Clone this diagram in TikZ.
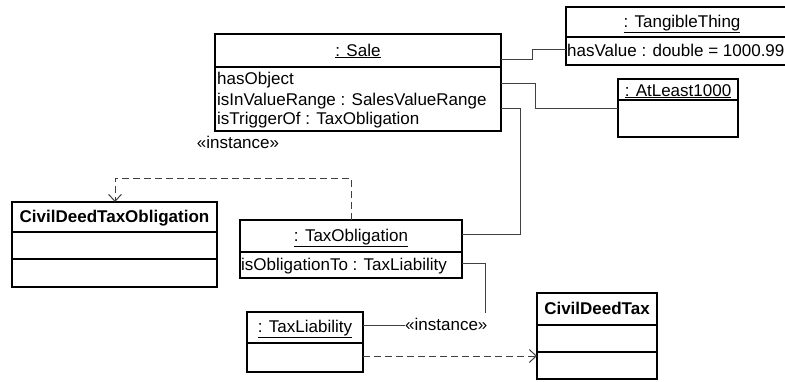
\documentclass[tikz,border=0pt]{standalone}
\usepackage{fontspec}
\setmainfont{Liberation Sans}
\usetikzlibrary{arrows.meta}
\begin{document}
\begin{tikzpicture}[x=1pt,y=-1pt,
  box/.style={draw=black,line width=1.3pt,anchor=north west,inner sep=0pt,outer sep=0pt},
  sep/.style={draw=black,line width=1.3pt},
  txt/.style={inner sep=0pt,font=\fontsize{17}{19}\selectfont},
  conn/.style={draw=black!75,line width=1pt},
  dep/.style={draw=black!75,line width=1pt,dash pattern=on 7pt off 4pt,-{Straight Barb[length=7pt,width=13pt,line width=1pt]}}]
\useasboundingbox (0,0) rectangle (785,381);
\clip (0,0) rectangle (785,381);
% Sale
\node[box,minimum width=286pt,minimum height=97pt] (sale) at (215,34) {};
\draw[sep] (215,67) -- (501,67);
\node[txt,anchor=base] (saleh) at (358,56) {\underline{: Sale}};
\node[txt,anchor=base west] (sa1) at (217,84) {hasObject};
\node[txt,anchor=base west] (sa2) at (217,105) {isInValueRange : SalesValueRange};
\node[txt,anchor=base west] (sa3) at (217,124) {isTriggerOf : TaxObligation};
% TangibleThing
\node[box,minimum width=234pt,minimum height=58pt] (tang) at (566,7) {};
\draw[sep] (566,37) -- (800,37);
\node[txt,anchor=base] (tangh) at (682,27) {\underline{: TangibleThing}};
\node[txt,anchor=base west] (tanga) at (567,56) {hasValue : double = 1000.99};
% AtLeast1000
\node[box,minimum width=120pt,minimum height=58pt] (atl) at (618,79) {};
\draw[sep] (618,100) -- (738,100);
\node[txt,anchor=base] (atlh) at (678,96) {\underline{: AtLeast1000}};
% CivilDeedTaxObligation
\node[box,minimum width=205pt,minimum height=85pt] (cdto) at (12,202) {};
\draw[sep] (12,232) -- (217,232);
\draw[sep] (12,259) -- (217,259);
\node[txt,anchor=base,font=\fontsize{17}{19}\selectfont\bfseries] (cdtoh) at (114.5,222) {CivilDeedTaxObligation};
% TaxObligation
\node[box,minimum width=222pt,minimum height=58pt] (tob) at (240,220) {};
\draw[sep] (240,252) -- (462,252);
\node[txt,anchor=base] (tobh) at (351,241) {\underline{: TaxObligation}};
\node[txt,anchor=base west] (toba) at (241,270) {isObligationTo : TaxLiability};
% TaxLiability
\node[box,minimum width=116pt,minimum height=60pt] (tli) at (247,312) {};
\draw[sep] (247,343) -- (363,343);
\node[txt,anchor=base] (tlih) at (305,332) {\underline{: TaxLiability}};
% CivilDeedTax
\node[box,minimum width=120pt,minimum height=86pt] (cdt) at (537,293) {};
\draw[sep] (537,325) -- (657,325);
\draw[sep] (537,352) -- (657,352);
\node[txt,anchor=base,font=\fontsize{17}{19}\selectfont\bfseries] (cdth) at (597,314) {CivilDeedTax};
% labels
\node[txt,anchor=base] (inst1) at (238,148) {«instance»};
\node[txt,anchor=base west] (inst2) at (405,330) {«instance»};
% connectors
\coordinate (s1) at (sale.east |- 0,59);
\coordinate (s2) at (sale.east |- 0,83);
\coordinate (s3) at (sale.east |- 0,108);
\draw[conn] (s1) -- (532,59) -- (532,49) -- (tang.west |- 0,49);
\draw[conn] (s2) -- (535,83) -- (535,108) -- (atl.west |- 0,108);
\draw[conn] (s3) -- (520,108) -- (520,234) -- (tob.east |- 0,234);
\draw[conn] (tob.east |- 0,263) -- (485,263) -- (485,313);
\draw[conn] (tli.east |- 0,325) -- (inst2.west |- 0,325);
\draw[dep] (tob.north -| 351,0) -- (351,178) -- (115,178) -- (cdto.north -| 115,0);
\draw[dep] (tli.east |- 0,356) -- (cdt.west |- 0,356);
\end{tikzpicture}
\end{document}
